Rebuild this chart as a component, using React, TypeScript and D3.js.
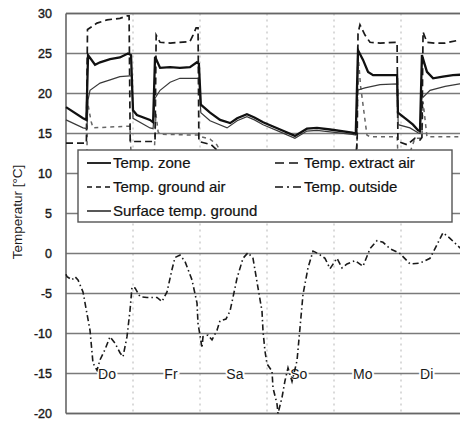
import React from "react";
import * as d3 from "d3";

type P = [number, number];

// hours since start (6 days = 144 h), temperature in °C
const zoneTemp: P[] = [
  [0, 18.3], [6.1, 16.9], [7.3, 16.7], [7.9, 24.8], [10.4, 23.6], [12.2, 23.9], [15.8, 24.3], [19.3, 24.5],
  [22.2, 25.0], [23.3, 24.8], [24.0, 17.9], [25.4, 17.3], [30.1, 16.7], [31.2, 16.4], [31.9, 24.6], [33.7, 23.2],
  [37.3, 23.3], [40.8, 23.2], [44.4, 23.3], [46.9, 23.9], [47.6, 23.7], [48.3, 18.6], [51.6, 17.6], [55.2, 16.7],
  [58.8, 16.3], [61.3, 16.9], [64.8, 17.4], [67.5, 17.0], [70.6, 16.4], [76.7, 15.5], [82.0, 14.7], [86.3, 15.6],
  [89.9, 15.7], [94.6, 15.5], [102.5, 15.1], [103.8, 15.0], [104.6, 25.4], [106.4, 24.2], [108.2, 22.7], [110.0, 22.3],
  [112.5, 22.3], [118.6, 22.3], [118.9, 17.6], [122.2, 16.7], [124.3, 16.1], [126.1, 15.4], [126.8, 15.3], [127.5, 24.8],
  [129.3, 22.7], [131.5, 21.9], [135.0, 22.1], [138.6, 22.3], [144, 22.4],
];

const surfaceTemp: P[] = [
  [0, 16.7], [6.1, 15.7], [7.5, 15.6], [7.9, 19.2], [8.6, 20.4], [12.2, 21.3], [15.8, 21.7], [19.3, 22.1],
  [22.9, 22.2], [23.6, 22.2], [24.0, 16.9], [30.1, 15.7], [31.2, 15.6], [31.9, 19.4], [33.7, 20.4], [37.3, 21.4],
  [40.8, 21.9], [44.4, 21.9], [47.6, 21.9], [48.3, 17.6], [51.6, 16.6], [57.7, 15.7], [61.3, 16.6], [64.8, 17.1],
  [67.5, 16.7], [70.6, 16.1], [76.7, 15.2], [82.0, 14.4], [86.3, 15.3], [89.9, 15.4], [94.6, 15.2], [102.5, 14.9],
  [103.8, 14.8], [104.4, 20.4], [107.1, 20.7], [112.5, 21.1], [118.6, 21.2], [119.0, 16.1], [123.2, 15.7], [126.1, 15.1],
  [126.8, 15.0], [127.5, 19.4], [130.4, 20.4], [135.8, 20.9], [141, 21.2], [144, 21.3],
];

const extractAirTemp: P[] = [
  [0, 13.8], [7.3, 13.8], [7.7, 28.0], [11.1, 28.8], [14.7, 29.2], [19.3, 29.4], [21.9, 29.7], [22.6, 29.7],
  [23.0, 14.0], [31.2, 14.0], [31.9, 14.2], [32.3, 27.3], [33.7, 26.4], [37.3, 26.3], [44.4, 26.5], [45.5, 27.3],
  [46.6, 28.2], [47.3, 28.2], [47.6, 14.0], [52.0, 13.6], [56.0, 12.3], [80.0, 12.0], [103.8, 12.2], [104.3, 14.0],
  [104.6, 27.5], [105.3, 28.6], [107.1, 27.3], [108.9, 26.4], [112.5, 26.3], [117.9, 26.4], [118.6, 26.4], [118.9, 14.0],
  [122.2, 13.6], [125.0, 14.4], [126.8, 14.2], [127.5, 14.5], [127.9, 27.7], [129.3, 26.4], [132.2, 26.3], [135.8, 26.3],
  [141.1, 26.7], [144, 26.8],
];

const groundAirTemp: P[] = [
  [5.0, 12.4], [7.5, 12.4], [7.7, 19.0], [9.0, 16.5], [9.7, 15.7], [15.0, 15.8], [22.2, 15.9], [22.9, 15.9],
  [23.3, 12.4], [31.6, 12.4], [32.2, 17.5], [33.0, 15.2], [33.7, 14.9], [46.9, 14.8], [47.6, 14.8], [48.3, 14.6],
  [51.6, 14.3], [54.0, 13.6], [56.0, 12.4], [104.2, 12.4], [104.6, 25.0], [105.5, 21.0], [107.8, 14.8], [108.9, 14.6],
  [118.6, 14.6], [118.9, 12.4], [123.0, 12.4], [125.0, 14.4], [126.8, 14.4], [127.5, 14.5], [127.9, 19.0], [129.3, 14.6],
  [144, 14.6],
];

const outsideTemp: P[] = [
  [0, -2.6], [0.36, -2.9], [2.15, -3.3], [3.22, -2.9], [4.3, -3.3], [6.09, -4.8], [8.6, -9.6], [9.67, -13.7],
  [11.1, -14.6], [12.18, -13.3], [13.97, -12.0], [15.76, -10.4], [17.55, -11.2], [19.34, -12.4], [20.42, -12.9],
  [21.85, -10.4], [22.93, -7.1], [23.64, -4.2], [24.72, -4.3], [26.51, -5.4], [29.01, -5.5], [32.6, -5.5],
  [34.39, -6.0], [36.18, -4.8], [37.97, -2.0], [39.04, -0.5], [40.84, -0.2], [42.63, -1.0], [45.13, -3.3],
  [46.93, -6.2], [47.28, -8.7], [48.72, -11.8], [49.07, -10.4], [50.87, -10.2], [52.3, -10.8], [54.09, -9.6],
  [55.16, -8.4], [57.3, -8.2], [58.75, -7.2], [60.54, -4.3], [61.25, -3.1], [63.4, -0.6], [65.19, 0.1],
  [66.99, -0.6], [68.78, -4.3], [70.21, -7.2], [70.57, -9.7], [71.28, -12.2], [72.0, -13.8], [73.79, -14.7],
  [74.15, -16.8], [75.58, -18.8], [75.94, -20.0], [77.37, -18.0], [78.45, -15.9], [79.52, -14.3], [80.96, -16.0],
  [82.75, -13.4], [83.82, -9.3], [84.9, -5.1], [86.69, -1.8], [88.48, 0.3], [90.27, 0.0], [92.78, -0.6],
  [94.57, -1.9], [97.07, -0.6], [98.87, -1.8], [100.66, -1.3], [103.52, -0.9], [106.39, -1.6], [108.9, 0.6],
  [111.4, 1.6], [113.55, 1.4], [116.06, 0.6], [119.64, 0.0], [123.22, -1.3], [126.81, -1.2], [130.39, -0.6],
  [132.18, 0.6], [135.04, 2.6], [137.55, 1.9], [141.13, 0.7], [144, 0.2],
];

const yTicks = [30, 25, 20, 15, 10, 5, 0, -5, -10, -15, -20];
const dayBoundaries = [24, 48, 72, 96, 120];
const dayLabels = ["Do", "Fr", "Sa", "So", "Mo", "Di"];
const dayLabelHours = [14.7, 37.6, 60.5, 83.4, 106.3, 129.2];
const legendLeft = ["Temp. zone", "Temp. ground air", "Surface temp. ground"];
const legendRight = ["Temp. extract air", "Temp. outside"];
const yAxisTitle = "Temperatur [°C]";

const FONT = "'Liberation Sans', Arial, Helvetica, sans-serif";

export default function App() {
  const W = 460;
  const H = 422;
  const x = d3.scaleLinear().domain([0, 144]).range([66, 468]);
  const y = d3.scaleLinear().domain([-20, 30]).range([413.5, 13.5]);
  const lineLin = d3
    .line<P>()
    .x((d) => x(d[0]))
    .y((d) => y(d[1]));

  const styles = {
    zone: { stroke: "#111", strokeWidth: 2.3 },
    surface: { stroke: "#3a3a3a", strokeWidth: 1.2 },
    extract: { stroke: "#1a1a1a", strokeWidth: 1.7, dash: "7,4" },
    ground: { stroke: "#666", strokeWidth: 1.5, dash: "4,4" },
    outside: { stroke: "#1a1a1a", strokeWidth: 1.6, dash: "6,3,1.5,3" },
  };

  const lx = 78, ly = 150, lw = 374, lh = 72;
  const rowY = [163, 187, 211];

  return (
    <svg
      width={W}
      height={H}
      style={{ position: "absolute", left: 0, top: 0, background: "#fff" }}
      fontFamily={FONT}
    >
      <rect x={0} y={0} width={W} height={H} fill="#fff" />
      {dayBoundaries.map((h) => (
        <line key={"v" + h} x1={x(h)} x2={x(h)} y1={y(30)} y2={y(-20)} stroke="#b5b5b5" strokeWidth={1} strokeDasharray="2,4" />
      ))}
      {yTicks.map((t) => (
        <line key={"h" + t} x1={x(0)} x2={x(144)} y1={y(t)} y2={y(t)} stroke="#7a7a7a" strokeWidth={1.4} />
      ))}
      <line x1={x(0)} x2={x(0)} y1={y(30)} y2={y(-20)} stroke="#666" strokeWidth={1.6} />
      <line x1={x(0)} x2={x(144)} y1={y(30)} y2={y(30)} stroke="#666" strokeWidth={1.6} />
      <line x1={x(0)} x2={x(144)} y1={y(-20)} y2={y(-20)} stroke="#666" strokeWidth={1.6} />

      {yTicks.map((t) => (
        <text key={"t" + t} x={52} y={y(t) + 4.5} textAnchor="end" fontSize={12.5} fill="#1a1a1a" stroke="#1a1a1a" strokeWidth={0.4}>
          {t}
        </text>
      ))}
      <text transform={`translate(22,${212}) rotate(-90)`} textAnchor="middle" fontSize={13.5} fill="#1a1a1a">
        {yAxisTitle}
      </text>

      {dayLabels.map((d, i) => (
        <text
          key={d}
          x={x(dayLabelHours[i])}
          y={y(-15) + 5}
          textAnchor="middle"
          fontSize={14}
          fill="#1a1a1a"
          stroke="#fff"
          strokeWidth={4}
          paintOrder="stroke"
        >
          {d}
        </text>
      ))}

      <path d={lineLin(outsideTemp) || ""} fill="none" stroke={styles.outside.stroke} strokeWidth={styles.outside.strokeWidth} strokeDasharray={styles.outside.dash} />
      <path d={lineLin(groundAirTemp) || ""} fill="none" stroke={styles.ground.stroke} strokeWidth={styles.ground.strokeWidth} strokeDasharray={styles.ground.dash} />
      <path d={lineLin(extractAirTemp) || ""} fill="none" stroke={styles.extract.stroke} strokeWidth={styles.extract.strokeWidth} strokeDasharray={styles.extract.dash} />
      <path d={lineLin(surfaceTemp) || ""} fill="none" stroke={styles.surface.stroke} strokeWidth={styles.surface.strokeWidth} />
      <path d={lineLin(zoneTemp) || ""} fill="none" stroke={styles.zone.stroke} strokeWidth={styles.zone.strokeWidth} />

      <rect x={lx} y={ly} width={lw} height={lh} fill="#fff" stroke="#555" strokeWidth={1.4} />
      {legendLeft.map((name, i) => (
        <g key={name}>
          <line x1={87} x2={111} y1={rowY[i]} y2={rowY[i]} stroke="#111" strokeWidth={i === 0 ? 1.8 : 1.4} strokeDasharray={i === 1 ? "5,4" : undefined} />
          <text x={113} y={rowY[i] + 5} fontSize={15} fill="#111" stroke="#111" strokeWidth={0.2}>{name}</text>
        </g>
      ))}
      {legendRight.map((name, i) => (
        <g key={name}>
          <line x1={275} x2={302} y1={rowY[i]} y2={rowY[i]} stroke="#111" strokeWidth={1.5} strokeDasharray={i === 0 ? "9,5" : "8,4,2,4"} />
          <text x={304} y={rowY[i] + 5} fontSize={15} fill="#111" stroke="#111" strokeWidth={0.2}>{name}</text>
        </g>
      ))}
    </svg>
  );
}
